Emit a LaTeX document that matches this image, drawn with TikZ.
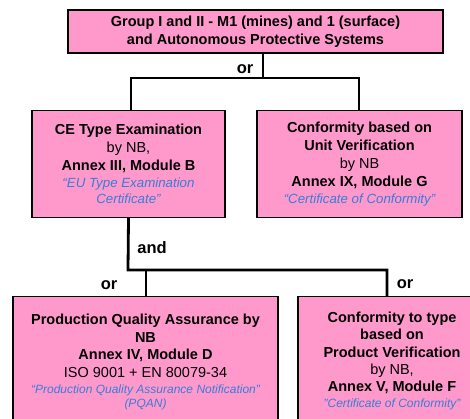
\documentclass[tikz,border=0pt]{standalone}
\usepackage{fontspec}
\setmainfont{Liberation Sans}
\usepackage{tikz}
\usetikzlibrary{positioning,calc}
\usepackage{xcolor}
\definecolor{boxpink} {RGB}{255, 153, 204}
\definecolor{certblue}{RGB}{ 55, 125, 215}

\newcommand{\bigtxt}{\fontsize{14.5}{18}\selectfont}
\newcommand{\certtxt}{\color{certblue}\fontsize{13.3}{16}\selectfont\itshape}
\newcommand{\smallcert}{\color{certblue}\fontsize{12}{14.5}\selectfont\itshape}

\begin{document}
\begin{tikzpicture}[
  x=1pt,y=-1pt,
  modbox/.style={draw=black,line width=1.4pt,fill=boxpink,align=center,
    inner sep=0pt,font=\bigtxt},
  conn/.style={line width=2.8pt},
  cond/.style={font=\fontsize{16.5}{18}\selectfont\bfseries},
]
\useasboundingbox (0,0) rectangle (470,418);

%% ── Equipment group ─────────────────────────────────────────────────────
\node[modbox,minimum width=375,minimum height=43] (group) at (255.5,31.5)
  {\bfseries Group I and II - M1 (mines) and 1 (surface)\\
   \bfseries and Autonomous Protective Systems};

%% ── First choice: type examination or unit verification ─────────────────
\node[modbox,minimum width=193,minimum height=107] (typeexam) at (128.5,164)
  {\bfseries CE Type Examination\\
   by NB,\\
   \bfseries Annex III, Module B\\[-1pt]
   {\certtxt “EU Type Examination}\\[-2pt]
   {\certtxt Certificate”}};

\node[modbox,minimum width=205,minimum height=107] (unitver) at (359.5,164)
  {\bfseries Conformity based on\\
   \bfseries Unit Verification\\
   by NB\\
   \bfseries Annex IX, Module G\\[-1pt]
   {\certtxt “Certificate of Conformity”}};

%% ── Second choice: production QA or product verification ────────────────
\node[modbox,minimum width=265,minimum height=131] (prodqa) at (145.5,362)
  {\bfseries Production Quality Assurance by\\[-0.5pt]
   \bfseries NB\\[-0.5pt]
   \bfseries Annex IV, Module D\\[-0.5pt]
   ISO 9001 + EN 80079-34\\[-2pt]
   {\smallcert “Production Quality Assurance Notification”}\\[-4pt]
   {\smallcert (PQAN)}};

\node[modbox,minimum width=188,minimum height=129] (prodver) at (392,361)
  {\bfseries Conformity to type\\[-0.5pt]
   \bfseries based on\\[-0.5pt]
   \bfseries Product Verification\\[-0.5pt]
   by NB,\\[-1pt]
   \bfseries Annex V, Module F\\[-2pt]
   {\smallcert "Certificate of Conformity"}};

%% Connectors
\coordinate (orTop) at (263,78);
\coordinate (orLeft) at (131,78);
\coordinate (orRight) at (359,78);
\draw[conn] (orTop |- group.south) -- (orTop);
\draw[conn] (orLeft |- typeexam.north) -- (orLeft) -- (orRight)
  -- (orRight |- unitver.north);
\node[cond] (orA) at (245,69) {or};

\coordinate (andLeft) at (128,270);
\coordinate (andRight) at (387,270);
\coordinate (orBot) at (146,270);
\draw[conn] (typeexam.south) -- (andLeft) -- (andRight)
  -- (andRight |- prodver.north);
\draw[conn] (orBot) -- (orBot |- prodqa.north);
\node[cond] (andB) at (152,248) {and};
\node[cond] (orC) at (109,285) {or};
\node[cond] (orD) at (405,284) {or};

\end{tikzpicture}
\end{document}
